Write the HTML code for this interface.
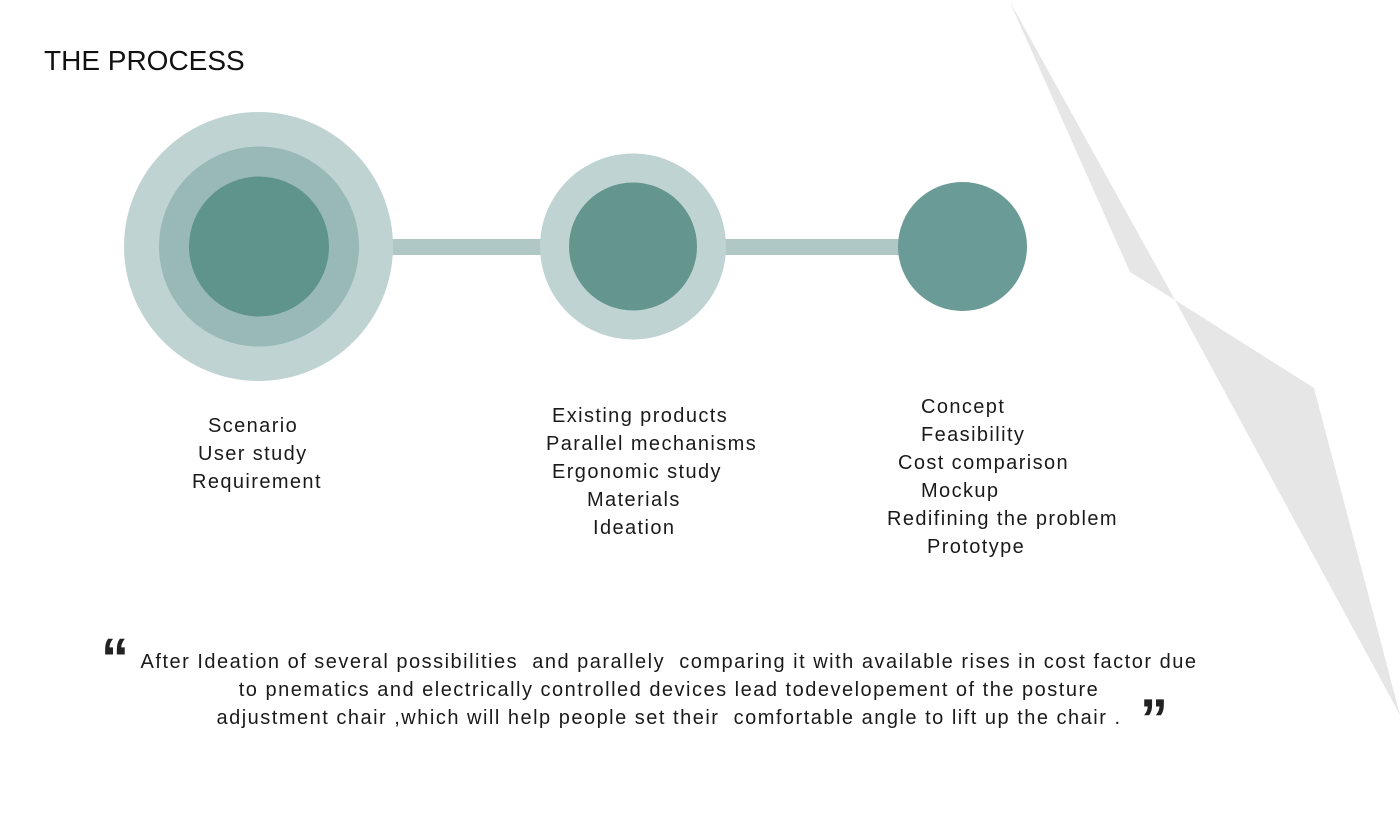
<!DOCTYPE html>
<html><head><meta charset="utf-8"><style>
body{margin:0;width:1400px;height:840px;background:#fff;overflow:hidden;position:relative;font-family:"Liberation Sans",sans-serif;color:#1a1a1a}
.t{position:absolute;font-size:20px;line-height:28px;white-space:nowrap;letter-spacing:1.4px}
.q{position:absolute;font-size:20px;line-height:28px;white-space:nowrap;letter-spacing:1.5px;left:0;width:1338px;text-align:center}
</style></head><body>
<svg width="1400" height="840" style="position:absolute;left:0;top:0">
<polygon points="1009,0 1130,272 1175,300" fill="#e6e6e6"/>
<polygon points="1175,300 1314,388 1400,715" fill="#e6e6e6"/>
<rect x="390" y="239" width="155" height="16" fill="#afc8c5"/>
<rect x="722" y="239" width="180" height="16" fill="#afc8c5"/>
<circle cx="258.5" cy="246.5" r="134.5" fill="#bfd3d3"/>
<circle cx="259" cy="246.5" r="100" fill="#99b9b6"/>
<circle cx="259" cy="246.5" r="70" fill="#5f948b"/>
<circle cx="633" cy="246.5" r="93" fill="#bfd3d3"/>
<circle cx="633" cy="246.5" r="64" fill="#64968e"/>
<circle cx="962.5" cy="246.5" r="64.5" fill="#6b9b96"/>
<text x="44" y="70" font-family="Liberation Sans, sans-serif" font-size="28" fill="#111">THE PROCESS</text>
<text x="101" y="677" font-family="Liberation Sans, sans-serif" font-size="56" font-weight="bold" fill="#222">“</text>
<text x="1140" y="738" font-family="Liberation Sans, sans-serif" font-size="56" font-weight="bold" fill="#222">”</text>
</svg>
<div class="t" style="left:208px;top:412px">Scenario</div>
<div class="t" style="left:198px;top:440px">User study</div>
<div class="t" style="left:192px;top:468px">Requirement</div>
<div class="t" style="left:552px;top:402px">Existing products</div>
<div class="t" style="left:546px;top:430px">Parallel mechanisms</div>
<div class="t" style="left:552px;top:458px">Ergonomic study</div>
<div class="t" style="left:587px;top:486px">Materials</div>
<div class="t" style="left:593px;top:514px">Ideation</div>
<div class="t" style="left:921px;top:393px">Concept</div>
<div class="t" style="left:921px;top:421px">Feasibility</div>
<div class="t" style="left:898px;top:449px">Cost comparison</div>
<div class="t" style="left:921px;top:477px">Mockup</div>
<div class="t" style="left:887px;top:505px">Redifining the problem</div>
<div class="t" style="left:927px;top:533px">Prototype</div>
<div class="q" style="top:648px">After Ideation of several possibilities&nbsp; and parallely&nbsp; comparing it with available rises in cost factor due</div>
<div class="q" style="top:676px">to pnematics and electrically controlled devices lead todevelopement of the posture</div>
<div class="q" style="top:704px">adjustment chair ,which will help people set their&nbsp; comfortable angle to lift up the chair .</div>
</body></html>
